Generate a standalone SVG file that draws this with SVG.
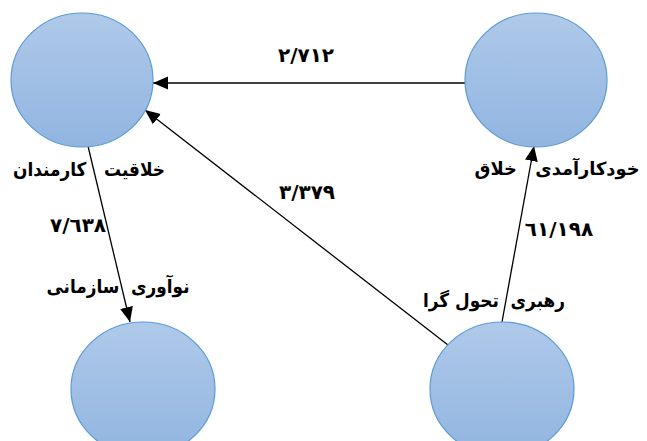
<svg xmlns="http://www.w3.org/2000/svg" width="647" height="441" viewBox="0 0 647 441">
  <style>
    .node { fill: url(#nodeFill); stroke: #5b9bd5; stroke-width: 1.2; }
    .edge { fill: none; stroke: #000; stroke-width: 1.3; marker-end: url(#arrow); }
    .lbl { font-family: "DejaVu Sans", sans-serif; font-weight: bold; font-size: 19px; fill: #000; text-anchor: middle; white-space: pre; }
    .num { font-family: "DejaVu Sans", sans-serif; font-weight: bold; font-size: 20px; fill: #000; text-anchor: middle; }
  </style>
  <defs>
    <linearGradient id="nodeFill" x1="0" y1="0" x2="0" y2="1">
      <stop offset="0" stop-color="#afc9e9"/>
      <stop offset="1" stop-color="#91b5e0"/>
    </linearGradient>
    <marker id="arrow" markerUnits="userSpaceOnUse" markerWidth="16" markerHeight="14" refX="15" refY="6.5" orient="auto">
      <path d="M0,0 L15,6.5 L0,13 Z" fill="#000"/>
    </marker>
  </defs>

  <g id="edges">
    <path class="edge" d="M465,83 L153,83"/>
    <path class="edge" d="M448,345 L145,110"/>
    <path class="edge" d="M88,146 L130,322"/>
    <path class="edge" d="M502,322 L534,146"/>
  </g>

  <g id="node-creativity">
    <ellipse class="node" cx="82" cy="80" rx="71" ry="67"/>
    <text class="lbl" x="89" y="176" direction="rtl" textLength="152" lengthAdjust="spacingAndGlyphs">خلاقیت   کارمندان</text>
  </g>

  <g id="node-efficacy">
    <ellipse class="node" cx="536" cy="80" rx="71" ry="67"/>
    <text class="lbl" x="557" y="175" direction="rtl" style="font-size:18px" textLength="165" lengthAdjust="spacingAndGlyphs">خودکارآمدی   خلاق</text>
  </g>

  <g id="node-innovation">
    <ellipse class="node" cx="143" cy="389" rx="72" ry="67"/>
    <text class="lbl" x="118" y="293" direction="rtl" textLength="143" lengthAdjust="spacingAndGlyphs">نوآوری  سازمانی</text>
  </g>

  <g id="node-leadership">
    <ellipse class="node" cx="502" cy="389" rx="72" ry="67"/>
    <text class="lbl" x="494" y="307" direction="rtl" textLength="142" lengthAdjust="spacingAndGlyphs">رهبری  تحول گرا</text>
  </g>

  <g id="coefficients">
    <text class="num" x="306" y="62">٢/٧١٢</text>
    <text class="num" x="307" y="199">٣/٣٧٩</text>
    <text class="num" x="78" y="232">٧/٦٣٨</text>
    <text class="num" x="559" y="236">٦١/١٩٨</text>
  </g>
</svg>
